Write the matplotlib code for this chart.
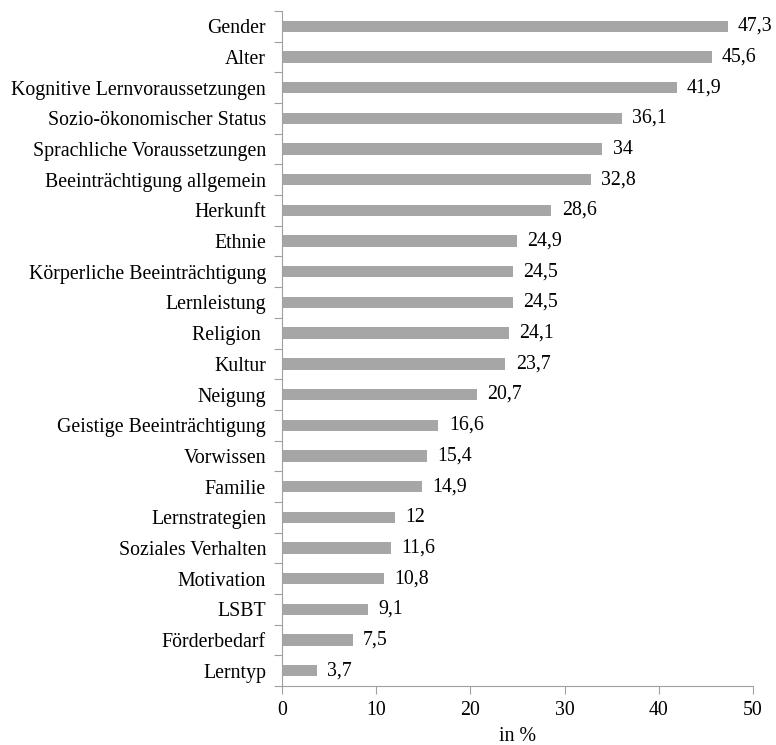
import matplotlib
matplotlib.use("Agg")
import matplotlib.pyplot as plt
import numpy as np

categories = ["Gender", "Alter", "Kognitive Lernvoraussetzungen", "Sozio-ökonomischer Status",
              "Sprachliche Voraussetzungen", "Beeinträchtigung allgemein", "Herkunft", "Ethnie",
              "Körperliche Beeinträchtigung", "Lernleistung", "Religion ", "Kultur", "Neigung",
              "Geistige Beeinträchtigung", "Vorwissen", "Familie", "Lernstrategien",
              "Soziales Verhalten", "Motivation", "LSBT", "Förderbedarf", "Lerntyp"]
values = [47.3, 45.6, 41.9, 36.1, 34, 32.8, 28.6, 24.9, 24.5, 24.5, 24.1, 23.7, 20.7,
          16.6, 15.4, 14.9, 12, 11.6, 10.8, 9.1, 7.5, 3.7]
value_labels = ["47,3", "45,6", "41,9", "36,1", "34", "32,8", "28,6", "24,9", "24,5", "24,5",
                "24,1", "23,7", "20,7", "16,6", "15,4", "14,9", "12", "11,6", "10,8", "9,1",
                "7,5", "3,7"]

plt.rcParams['font.family'] = ['Liberation Serif', 'DejaVu Serif']
plt.rcParams['font.size'] = 14.3

fig = plt.figure(figsize=(7.76, 7.45), dpi=100)
ax = fig.add_axes([282 / 776, 1 - 686 / 745, 471 / 776, 675 / 745])

n = len(categories)
y = np.arange(n)
ax.barh(y, values, height=0.37, color="#a6a6a6")
for yi, v, lab in zip(y, values, value_labels):
    ax.annotate(lab, (v, yi), xytext=(7.5, 0), textcoords="offset points",
                va="center", ha="left")

ax.set_ylim(n - 0.5, -0.5)
ax.set_xlim(0, 50)
ax.set_xticks(range(0, 51, 10))
ax.set_yticks(np.arange(-0.5, n, 1.0))
ax.set_yticklabels([])
ax.set_yticks(y, minor=True)
ax.set_yticklabels(categories, minor=True)
ax.tick_params(axis="y", which="minor", length=0, pad=11.5)
ax.tick_params(axis="y", which="major", length=6, color="#a0a0a0", direction="out")
ax.tick_params(axis="x", length=6, color="#a0a0a0", direction="out", pad=5)
for s in ["top", "right"]:
    ax.spines[s].set_visible(False)
for s in ["left", "bottom"]:
    ax.spines[s].set_color("#a0a0a0")
ax.set_xlabel("in %", labelpad=5)

fig.savefig("out.png", dpi=100)
